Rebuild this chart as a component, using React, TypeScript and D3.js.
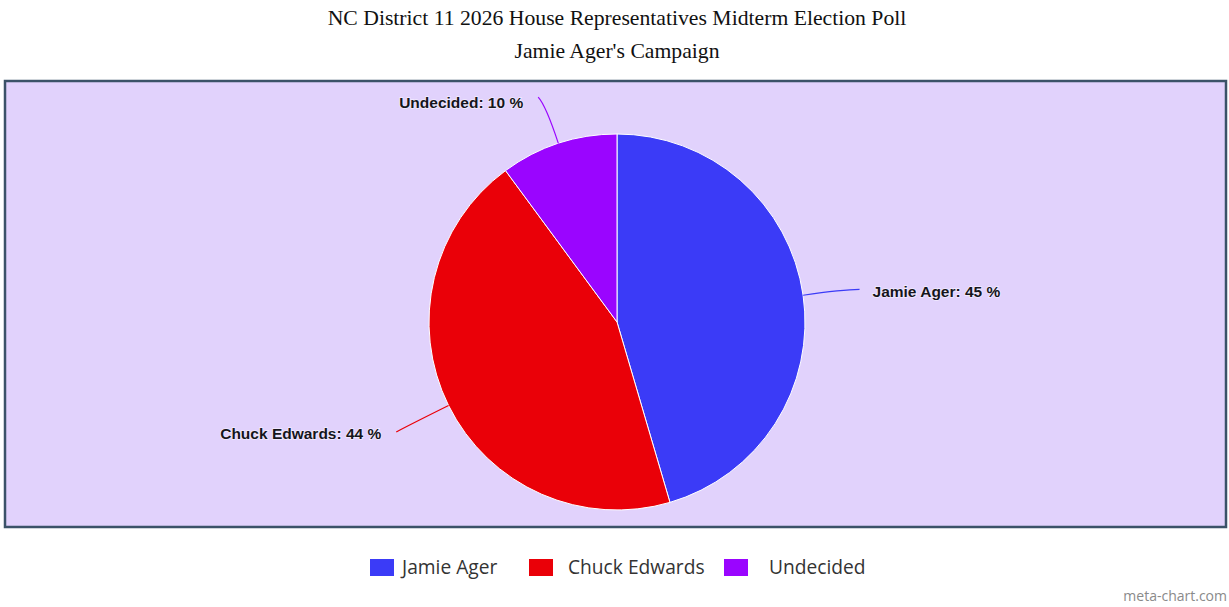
import React from "react";
import * as d3 from "d3";

const categories = ["Jamie Ager", "Chuck Edwards", "Undecided"];
const values = [45, 44, 10];
const colors = ["#3b3bf7", "#ea0008", "#9a05ff"];
const title = "NC District 11 2026 House Representatives Midterm Election Poll";
const subtitle = "Jamie Ager's Campaign";

const W = 1229;
const H = 607;

export default function App() {
  const cx = 617;
  const cy = 322;
  const r = 188;
  const labelR = r + 55;

  const pie = d3.pie<number>().sort(null).value((d) => d);
  const arcs = pie(values);
  const arcGen = d3.arc<d3.PieArcDatum<number>>().innerRadius(0).outerRadius(r);

  const legendItems = [
    { x: 370, textX: 402 },
    { x: 529, textX: 568 },
    { x: 724, textX: 769 },
  ];

  return (
    <svg
      width={W}
      height={H}
      style={{ position: "absolute", left: 0, top: 0, display: "block" }}
    >
      <rect x={0} y={0} width={W} height={H} fill="#ffffff" />
      <text
        x={617}
        y={25}
        textAnchor="middle"
        fontFamily="'Liberation Serif', 'Times New Roman', serif"
        fontSize={21.7}
        fill="#111"
      >
        {title}
      </text>
      <text
        x={617}
        y={58}
        textAnchor="middle"
        fontFamily="'Liberation Serif', 'Times New Roman', serif"
        fontSize={21.7}
        fill="#111"
      >
        {subtitle}
      </text>
      <rect
        x={5}
        y={81}
        width={1221}
        height={446}
        fill="#e1d2fc"
        stroke="#3b5268"
        strokeWidth={2.5}
      />
      <g transform={`translate(${cx},${cy})`}>
        {arcs.map((a, i) => (
          <path
            key={categories[i]}
            d={arcGen(a) || ""}
            fill={colors[i]}
            stroke="#ffffff"
            strokeWidth={1}
          />
        ))}
        {arcs.map((a, i) => {
          const mid = (a.startAngle + a.endAngle) / 2;
          const sx = Math.sin(mid) * r;
          const sy = -Math.cos(mid) * r;
          const ex = Math.sin(mid) * labelR;
          const ey = -Math.cos(mid) * labelR;
          const right = Math.sin(mid) >= 0;
          const qx = Math.sin(mid) * (r + 40);
          const qy = -Math.cos(mid) * (r + 40);
          const top = Math.cos(mid) > 0.8;
          const lx = ex + (right ? 2 : -3);
          const ly = ey + (top ? 6 : 2);
          const tx = lx + (right ? 13 : -15);
          const pct = Math.round(values[i]);
          return (
            <g key={"l" + i}>
              <path
                d={`M${sx},${sy} Q${qx},${qy} ${lx},${ly}`}
                fill="none"
                stroke={colors[i]}
                strokeWidth={1.2}
              />
              <text
                x={tx}
                y={ly + (top ? 5 : 2)}
                dy="0.35em"
                textAnchor={right ? "start" : "end"}
                fontFamily="'Liberation Sans', Arial, sans-serif"
                fontWeight="bold"
                fontSize={15.5}
                fill="#15151c"
                stroke="#f3ecff"
                strokeWidth={1.5}
                paintOrder="stroke"
              >
                {`${categories[i]}: ${pct} %`}
              </text>
            </g>
          );
        })}
      </g>
      {categories.map((c, i) => (
        <g key={"leg" + i}>
          <rect x={legendItems[i].x} y={559} width={24} height={17} fill={colors[i]} />
          <text
            x={legendItems[i].textX}
            y={574}
            fontFamily="'Open Sans', 'DejaVu Sans', sans-serif"
            fontSize={19.2}
            fill="#333"
          >
            {c}
          </text>
        </g>
      ))}
      <text
        x={1227}
        y={601}
        textAnchor="end"
        fontFamily="'Open Sans', 'DejaVu Sans', sans-serif"
        fontSize={14}
        fill="#8a8a8a"
      >
        meta-chart.com
      </text>
    </svg>
  );
}
